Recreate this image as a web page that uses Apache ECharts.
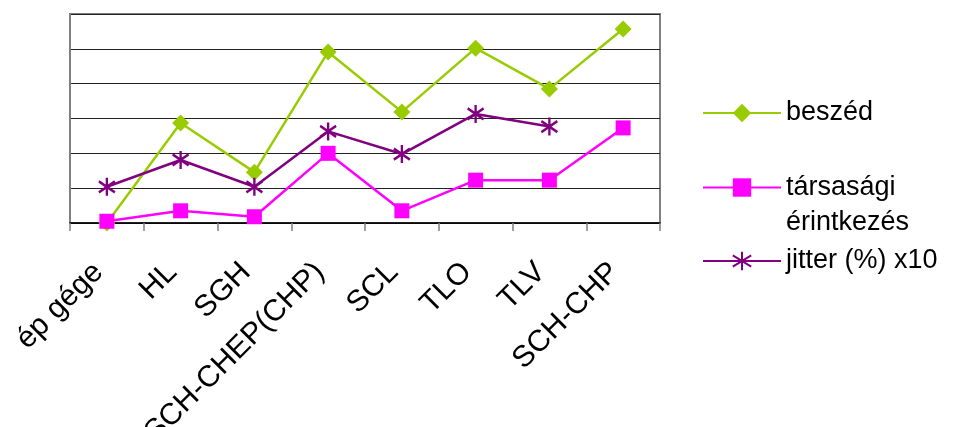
<!DOCTYPE html>
<html>
<head>
<meta charset="utf-8">
<script src="https://cdn.jsdelivr.net/npm/echarts@6/dist/echarts.min.js"></script>
<style>
  html, body { margin: 0; padding: 0; background: #fff; }
  #chart { width: 955px; height: 427px; }
</style>
</head>
<body>
<div id="chart"></div>
<script>
// Categories on the x axis
const categories = ['ép gége', 'HL', 'SGH', 'SCH-CHEP(CHP)', 'SCL', 'TLO', 'TLV', 'SCH-CHP'];

// Series values
const beszed = [0.0, 2.87, 1.46, 4.91, 3.19, 5.02, 3.85, 5.57];
const tarsasagi = [0.05, 0.35, 0.18, 2.0, 0.35, 1.23, 1.23, 2.73];
const jitter = [1.04, 1.81, 1.04, 2.63, 1.98, 3.13, 2.77, null];

const seriesNames = ['beszéd', 'társasági érintkezés', 'jitter (%) x10'];

const GREEN = '#99CC00';
const MAGENTA = '#FF00FF';
const PURPLE = '#800080';
const FONT = '"Liberation Sans", Arial, sans-serif';

// six-armed star marker
const asterisk = 'path://M8 0L8 18M0 3.5L16 14.5M0 14.5L16 3.5';

const chart = echarts.init(document.getElementById('chart'), null, { renderer: 'canvas' });

const legendBase = {
  orient: 'vertical',
  left: 702,
  padding: 0,
  itemWidth: 78,
  itemHeight: 23,
  textStyle: { fontFamily: FONT, fontSize: 27, color: '#000', lineHeight: 23 }
};

chart.setOption({
  animation: false,
  backgroundColor: '#fff',
  grid: {
    left: 70, top: 14, width: 590, height: 209,
    outerBoundsMode: 'none',
    containLabel: false,
    show: true, borderColor: '#808080', borderWidth: 2, backgroundColor: 'transparent'
  },
  legend: [
    Object.assign({}, legendBase, { top: 99.5, data: [seriesNames[0]] }),
    Object.assign({}, legendBase, {
      top: 139,
      data: [seriesNames[1]],
      // blank first line keeps the marker level with the first text line
      formatter: () => '{p| }\n{t|társasági}\n{t|érintkezés}',
      textStyle: {
        fontFamily: FONT, fontSize: 27, color: '#000',
        rich: {
          p: { fontFamily: FONT, fontSize: 27, lineHeight: 35 },
          t: { fontFamily: FONT, fontSize: 27, color: '#000', lineHeight: 35 }
        }
      }
    }),
    Object.assign({}, legendBase, { top: 247.5, data: [seriesNames[2]] })
  ],
  xAxis: {
    type: 'category',
    data: categories,
    boundaryGap: true,
    axisLine: { lineStyle: { color: '#000', width: 1.5 } },
    axisTick: { show: true, length: 8, lineStyle: { color: '#808080', width: 1.5 } },
    axisLabel: {
      rotate: 45, interval: 0, margin: 36,
      padding: [0, 12, 0, 0],
      fontFamily: FONT, fontSize: 30, color: '#000'
    },
    splitLine: { show: false }
  },
  yAxis: {
    type: 'value',
    min: 0, max: 6, interval: 1,
    axisLine: { show: true, lineStyle: { color: '#808080', width: 2 } },
    axisTick: { show: false },
    axisLabel: { show: false },
    splitLine: { show: true, lineStyle: { color: '#222', width: 1 } }
  },
  series: [
    {
      name: seriesNames[0], type: 'line', data: beszed,
      symbol: 'diamond', symbolSize: 17,
      lineStyle: { color: GREEN, width: 2.5 },
      itemStyle: { color: GREEN }
    },
    {
      name: seriesNames[1], type: 'line', data: tarsasagi,
      symbol: 'rect', symbolSize: 15,
      lineStyle: { color: MAGENTA, width: 2.5 },
      itemStyle: { color: MAGENTA }
    },
    {
      name: seriesNames[2], type: 'line', data: jitter,
      symbol: asterisk, symbolSize: [16, 18],
      lineStyle: { color: PURPLE, width: 2.5 },
      itemStyle: { color: PURPLE, borderColor: PURPLE, borderWidth: 2.5 }
    }
  ]
});
</script>
</body>
</html>
